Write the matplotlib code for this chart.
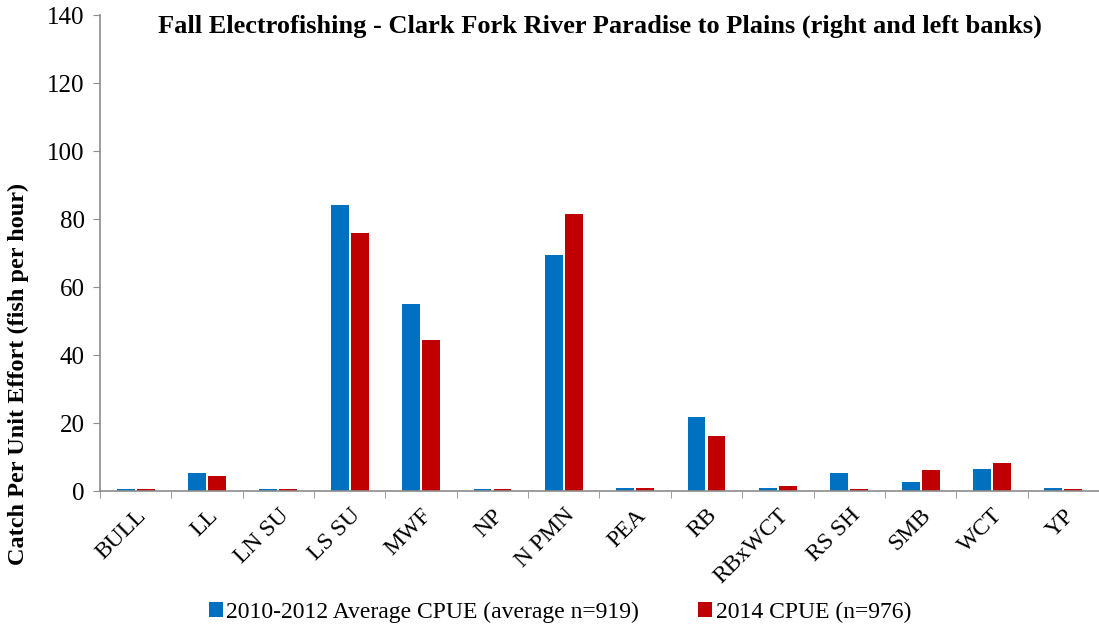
import numpy as np
import matplotlib.pyplot as plt
from matplotlib.ticker import FixedLocator, NullFormatter

plt.rcParams['font.family'] = ['Liberation Serif', 'DejaVu Serif']

# Data
species = ['BULL', 'LL', 'LN SU', 'LS SU', 'MWF', 'NP', 'N PMN', 'PEA', 'RB',
           'RBxWCT', 'RS SH', 'SMB', 'WCT', 'YP']
cpue_2010_2012 = [0.6, 5.2, 0.6, 84.2, 55.0, 0.6, 69.3, 0.8, 21.7, 0.9, 5.4, 2.6, 6.5, 0.8]
cpue_2014 = [0.6, 4.3, 0.6, 75.9, 44.4, 0.6, 81.6, 0.8, 16.2, 1.5, 0.6, 6.3, 8.3, 0.6]

blue = '#0070C0'
red = '#C00000'
gray = '#8C8C8C'

fig = plt.figure(figsize=(10.99, 6.3), dpi=100)
ax = fig.add_axes([100 / 1099, 1 - 491 / 630, 999 / 1099, 476 / 630])

x = np.arange(len(species))
w = 0.25
ax.bar(x - 0.14, cpue_2010_2012, w, color=blue, label='2010-2012 Average CPUE (average n=919)')
ax.bar(x + 0.14, cpue_2014, w, color=red, label='2014 CPUE (n=976)')

ax.set_xlim(-0.5, len(species) - 0.5)
ax.set_ylim(0, 140)
ax.set_yticks(range(0, 141, 20))
ax.tick_params(axis='y', labelsize=18, length=5, color=gray, pad=6)

ax.set_xticks(x)
ax.set_xticklabels(species, rotation=45, ha='right', rotation_mode='anchor', fontsize=17)
ax.tick_params(axis='x', length=0, pad=10)
ax.xaxis.set_minor_locator(FixedLocator(np.arange(-0.5, len(species), 1)))
ax.xaxis.set_minor_formatter(NullFormatter())
ax.tick_params(axis='x', which='minor', length=5, color=gray)

for s in ['top', 'right']:
    ax.spines[s].set_visible(False)
for s in ['left', 'bottom']:
    ax.spines[s].set_color(gray)
    ax.spines[s].set_linewidth(1.2)

fig.text(18 / 1099, 1 - 374 / 630, 'Catch Per Unit Effort (fish per hour)', rotation=90,
         ha='center', va='center', fontsize=17.5, fontweight='bold')
ax.set_title('Fall Electrofishing - Clark Fork River Paradise to Plains (right and left banks)',
             fontsize=19, fontweight='bold', y=0.945)

fig.legend(loc='center', bbox_to_anchor=(560 / 1099, 1 - 612 / 630), ncol=2, frameon=False,
           fontsize=17, handlelength=0.6, handleheight=0.6, columnspacing=2.5, handletextpad=0.15)

fig.savefig('out.png', dpi=100)
